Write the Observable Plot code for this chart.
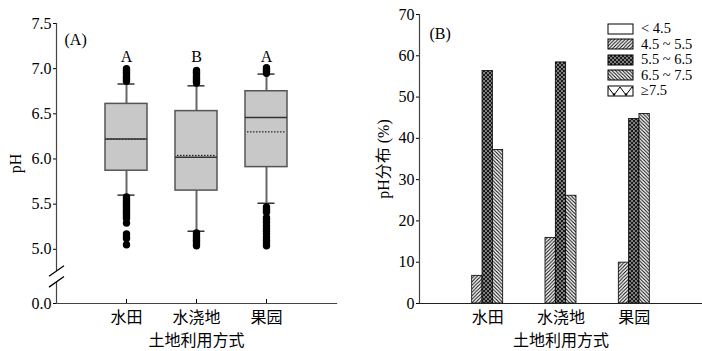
<!DOCTYPE html>
<html><head><meta charset="utf-8">
<script src="https://cdn.jsdelivr.net/npm/d3@7"></script>
<script src="https://cdn.jsdelivr.net/npm/@observablehq/plot@0.6"></script>
<style>
body{margin:0;background:#fff;}
#wrap{position:relative;width:702px;height:351px;display:flex;}
.panel{position:relative;width:351px;height:351px;}
#legend{position:absolute;left:257px;top:21px;}
#legend > div{margin:0 !important;}
#legend, #legend *{font-family:'Liberation Serif','Noto Sans CJK SC',serif !important;font-size:14.5px !important;color:#000 !important;}
.lg-swatch{line-height:15.5px !important;padding-bottom:0 !important;margin:0 !important;}
.lg-swatch > *{line-height:15.5px !important;}
.lg-swatch svg{margin-right:8px !important;}
.lg-swatch svg rect{stroke:#000;stroke-width:1px;}
</style>
</head>
<body>
<svg width="0" height="0" style="position:absolute">
<defs>
<pattern id="pA" patternUnits="userSpaceOnUse" width="10" height="10"><rect width="10" height="10" fill="#fff"/></pattern>
<pattern id="pB" patternUnits="userSpaceOnUse" width="3.5" height="3.5"><rect width="3.5" height="3.5" fill="#fff"/><path d="M-1,1 L1,-1 M0,3.5 L3.5,0 M2.5,4.5 L4.5,2.5" stroke="#000" stroke-width="1"/></pattern>
<pattern id="pC" patternUnits="userSpaceOnUse" width="4" height="4"><rect width="4" height="4" fill="#1a1a1a"/><circle cx="1" cy="1" r="0.8" fill="#fff"/><circle cx="3" cy="3" r="0.8" fill="#fff"/></pattern>
<pattern id="pD" patternUnits="userSpaceOnUse" width="3.5" height="3.5"><rect width="3.5" height="3.5" fill="#fff"/><path d="M0,0 L3.5,3.5 M-1,2.5 L1,4.5 M2.5,-1 L4.5,1" stroke="#000" stroke-width="1"/></pattern>
<pattern id="pE" patternUnits="userSpaceOnUse" width="12" height="10"><rect width="12" height="10" fill="#fff"/><path d="M0,1 L6,9 L12,1" stroke="#000" stroke-width="1" fill="none"/><circle cx="6" cy="8.5" r="1.2" fill="#000"/></pattern>
</defs>
</svg>
<div id="wrap"><div class="panel" id="left"></div><div class="panel" id="right"></div></div>
<script>
const FONT = "'Liberation Serif','Noto Sans CJK SC',serif";
const AXIS = "#444";

// ---- Panel A: box plot data ----
const categories = ["水田", "水浇地", "果园"];
const q1 = [5.87, 5.65, 5.91];
const median = [6.22, 6.02, 6.46];
const mean = [6.22, 6.04, 6.30];
const q3 = [6.61, 6.53, 6.75];
const whiskerLow = [5.60, 5.20, 5.51];
const whiskerHigh = [6.83, 6.81, 6.94];
const letters = ["A", "B", "A"];
const outliersPaddy = [6.86, 6.88, 6.90, 6.92, 6.94, 6.96, 6.98, 7.00,
  5.58, 5.56, 5.54, 5.52, 5.50, 5.48, 5.46, 5.44, 5.42, 5.40, 5.38, 5.36, 5.34, 5.29, 5.17, 5.14, 5.12, 5.05];
const outliersIrrigated = [6.84, 6.86, 6.88, 6.90, 6.92, 6.94, 6.96, 6.98,
  5.18, 5.16, 5.14, 5.12, 5.10, 5.08, 5.06, 5.04];
const outliersOrchard = [6.95, 6.97, 6.99, 7.01,
  5.47, 5.45, 5.43, 5.41, 5.35, 5.33, 5.30, 5.26, 5.23, 5.20, 5.17, 5.13, 5.10, 5.07, 5.04];
const yTicksA = [4.4, 5.0, 5.5, 6.0, 6.5, 7.0, 7.5]; // 4.4 stands for the broken-axis "0.0"
const axisBreaks = [4.76, 4.64];
const axisGap = [4.70];

// ---- Panel B: grouped bar data ----
const series = ["< 4.5", "4.5 ~ 5.5", "5.5 ~ 6.5", "6.5 ~ 7.5", "≥7.5"];
const paddyPct = [0, 6.7, 56.3, 37.2, 0];
const irrigatedPct = [0, 15.9, 58.4, 26.1, 0];
const orchardPct = [0, 9.9, 44.7, 45.9, 0];
const yTicksB = [0, 10, 20, 30, 40, 50, 60, 70];
const patterns = ["url(#pA)", "url(#pB)", "url(#pC)", "url(#pD)", "url(#pE)"];

const boxRows = categories.map((c, i) => ({cat: c, q1: q1[i], median: median[i], mean: mean[i], q3: q3[i], lo: whiskerLow[i], hi: whiskerHigh[i], letter: letters[i]}));
const outRows = [outliersPaddy, outliersIrrigated, outliersOrchard].flatMap((arr, i) => arr.map(v => ({cat: categories[i], v})));

const slash = {draw(ctx) { ctx.moveTo(-7.5, 5.3); ctx.lineTo(7.5, -5.3); }};
const gapSym = {draw(ctx) { ctx.moveTo(0, -5.6); ctx.lineTo(0, 5.6); }};

const left = Plot.plot({
  width: 351, height: 351, marginLeft: 56, marginRight: 15, marginTop: 23, marginBottom: 48,
  style: {fontFamily: FONT, fontSize: "16px", color: "#000", background: "transparent", overflow: "visible"},
  x: {domain: categories, paddingInner: 0.4, paddingOuter: 0.7, round: false, label: "土地利用方式", labelAnchor: "center", labelOffset: 42, tickSize: -4, tickPadding: 12},
  y: {domain: [4.4, 7.5], ticks: yTicksA, tickFormat: d => d === 4.4 ? "0.0" : d.toFixed(1), label: "pH", labelAnchor: "center", labelOffset: 47, tickSize: 3, tickPadding: 2, labelArrow: "none"},
  marks: [
    Plot.frame({anchor: "left", stroke: AXIS, strokeWidth: 1.2}),
    Plot.frame({anchor: "bottom", stroke: AXIS, strokeWidth: 1.2}),
    Plot.dot(axisGap, {y: d => d, frameAnchor: "left", symbol: gapSym, stroke: "#fff", fill: "none", strokeWidth: 4}),
    Plot.dot(axisBreaks, {y: d => d, frameAnchor: "left", symbol: slash, stroke: "#000", fill: "none", strokeWidth: 1.3}),
    Plot.ruleX(boxRows, {x: "cat", y1: "lo", y2: "hi", stroke: "#666", strokeWidth: 2}),
    Plot.tickY(boxRows, {x: "cat", y: "lo", insetLeft: 12.5, insetRight: 12.5, stroke: "#333", strokeWidth: 1.5}),
    Plot.tickY(boxRows, {x: "cat", y: "hi", insetLeft: 12.5, insetRight: 12.5, stroke: "#333", strokeWidth: 1.5}),
    Plot.barY(boxRows, {x: "cat", y1: "q1", y2: "q3", fill: "#c8c8c8", stroke: "#555", strokeWidth: 1.5}),
    Plot.tickY(boxRows, {x: "cat", y: "mean", stroke: "#000", strokeWidth: 1, strokeDasharray: "1.5,1.5", insetLeft: 2, insetRight: 2}),
    Plot.tickY(boxRows, {x: "cat", y: "median", stroke: "#333", strokeWidth: 1.5}),
    Plot.dot(outRows, {x: "cat", y: "v", r: 3.7, fill: "#000", stroke: "none"}),
    Plot.text(boxRows, {x: "cat", text: "letter", frameAnchor: "top", dy: 27, fontSize: 16}),
    Plot.text(["(A)"], {frameAnchor: "top-left", text: d => d, dx: 8, dy: 10, textAnchor: "start", fontSize: 16})
  ]
});
document.getElementById("left").appendChild(left);

const barRows = [paddyPct, irrigatedPct, orchardPct].flatMap((arr, i) => arr.map((v, j) => ({cat: categories[i], series: series[j], value: v})));
const pI = 0.859, pO = 0.86;
const ML = 68;
const barW = (351 - ML) / (categories.length - pI + 2 * pO) * (1 - pI);

const right = Plot.plot({
  width: 351, height: 351, marginLeft: ML, marginRight: 0, marginTop: 14, marginBottom: 48,
  style: {fontFamily: FONT, fontSize: "16px", color: "#000", background: "transparent", overflow: "visible"},
  x: {domain: categories, paddingInner: pI, paddingOuter: pO, round: false, label: "土地利用方式", labelAnchor: "center", labelOffset: 42, tickSize: 0, tickPadding: 8},
  y: {domain: [0, 70], ticks: yTicksB, label: "pH分布 (%)", labelAnchor: "center", labelOffset: 42, tickSize: 3, tickPadding: 2, labelArrow: "none"},
  color: {domain: series, range: patterns},
  marks: [
    ...series.map((s, j) => Plot.barY(barRows.filter(r => r.series === s), {x: "cat", y: "value", fill: "series", stroke: "#000", strokeWidth: 0.8, dx: (j - 2) * barW})),
    Plot.frame({anchor: "left", stroke: AXIS, strokeWidth: 1.2}),
    Plot.frame({anchor: "bottom", stroke: "#222", strokeWidth: 1.2}),
    Plot.text(["(B)"], {frameAnchor: "top-left", text: d => d, dx: 10, dy: 13, textAnchor: "start", fontSize: 16})
  ]
});
document.getElementById("right").appendChild(right);

const leg = right.legend("color", {columns: 1, swatchWidth: 25, swatchHeight: 10, className: "lg"});
const ld = document.createElement("div");
ld.id = "legend";
ld.appendChild(leg);
document.getElementById("right").appendChild(ld);
</script>
</body></html>
